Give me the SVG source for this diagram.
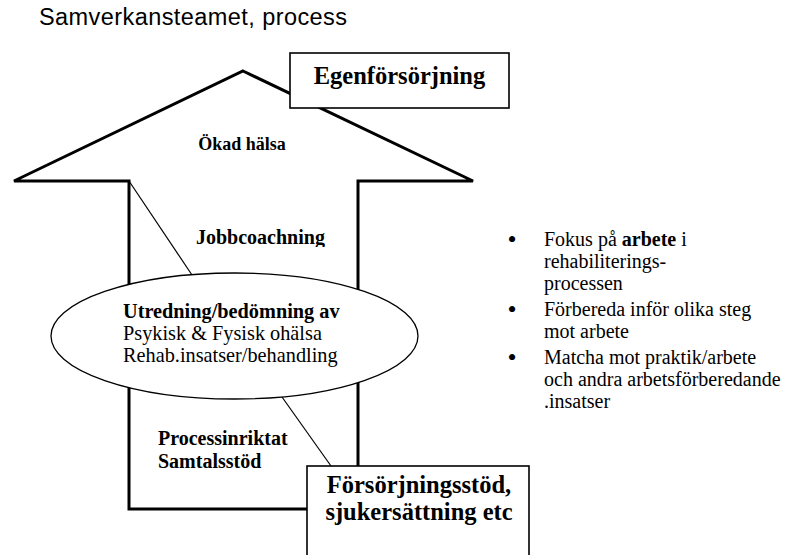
<svg xmlns="http://www.w3.org/2000/svg" width="795" height="555" viewBox="0 0 795 555">
  <style>
    .title { font-family: "Liberation Sans", Arial, sans-serif; font-size: 23.5px; fill: #000; }
    .lbl { font-family: "Liberation Serif", "Times New Roman", serif; fill: #000; }
    .b { font-weight: bold; }
    .dot { font-family: "Liberation Serif", "Times New Roman", serif; font-size: 26px; fill: #000; text-anchor: middle; }
    .box { fill: #fff; stroke: #000; stroke-width: 1.6; }
    .conn { stroke: #000; stroke-width: 1.2; fill: none; }
  </style>
  <defs>
    <clipPath id="clipJob">
      <rect x="150" y="220" width="220" height="27"/>
    </clipPath>
  </defs>
  <rect width="795" height="555" fill="#fff"/>

  <text class="title" x="39" y="25" textLength="308" lengthAdjust="spacing">Samverkansteamet, process</text>

  <g id="arrow">
    <polygon points="243,71 473,181 358,181 358,509 129,509 129,181 14,181" fill="#fff" stroke="#000" stroke-width="3" stroke-linejoin="miter"/>
    <text class="lbl b" x="242" y="150" font-size="18" text-anchor="middle">Ökad hälsa</text>
    <text class="lbl b" x="196" y="244" font-size="20" clip-path="url(#clipJob)">Jobbcoachning</text>
    <text class="lbl b" x="158" y="445" font-size="20">Processinriktat</text>
    <text class="lbl b" x="158" y="468" font-size="20">Samtalsstöd</text>
  </g>

  <g id="connectors">
    <line class="conn" x1="129" y1="181" x2="192" y2="275"/>
    <line class="conn" x1="282" y1="397" x2="331" y2="466"/>
  </g>

  <g id="ellipse-node">
    <ellipse cx="234.5" cy="336" rx="183.5" ry="63" fill="#fff" stroke="#000" stroke-width="1.3"/>
    <text class="lbl b" x="123" y="318" font-size="20.3">Utredning/bedömning av</text>
    <text class="lbl" x="123" y="340" font-size="20.3">Psykisk &amp; Fysisk ohälsa</text>
    <text class="lbl" x="123" y="362" font-size="20.3">Rehab.insatser/behandling</text>
  </g>

  <g id="egen">
    <rect class="box" x="290" y="53" width="219" height="55"/>
    <text class="lbl b" x="399.5" y="84" font-size="24.5" text-anchor="middle">Egenförsörjning</text>
  </g>

  <g id="forsorjning">
    <rect class="box" x="307" y="466" width="222" height="100"/>
    <text class="lbl b" x="419" y="493" font-size="24.5" text-anchor="middle">Försörjningsstöd,</text>
    <text class="lbl b" x="419" y="520" font-size="24.5" text-anchor="middle">sjukersättning etc</text>
  </g>

  <g id="bullets">
    <text class="dot" x="512" y="248">•</text>
    <text class="lbl" x="544" y="246" font-size="20">Fokus på <tspan class="b">arbete</tspan> i</text>
    <text class="lbl" x="544" y="268" font-size="20">rehabiliterings-</text>
    <text class="lbl" x="544" y="290" font-size="20">processen</text>
    <text class="dot" x="512" y="318">•</text>
    <text class="lbl" x="544" y="316" font-size="20">Förbereda inför olika steg</text>
    <text class="lbl" x="544" y="338" font-size="20">mot arbete</text>
    <text class="dot" x="512" y="366">•</text>
    <text class="lbl" x="544" y="364" font-size="20">Matcha mot praktik/arbete</text>
    <text class="lbl" x="544" y="386" font-size="20">och andra arbetsförberedande</text>
    <text class="lbl" x="544" y="408" font-size="20">.insatser</text>
  </g>
</svg>
